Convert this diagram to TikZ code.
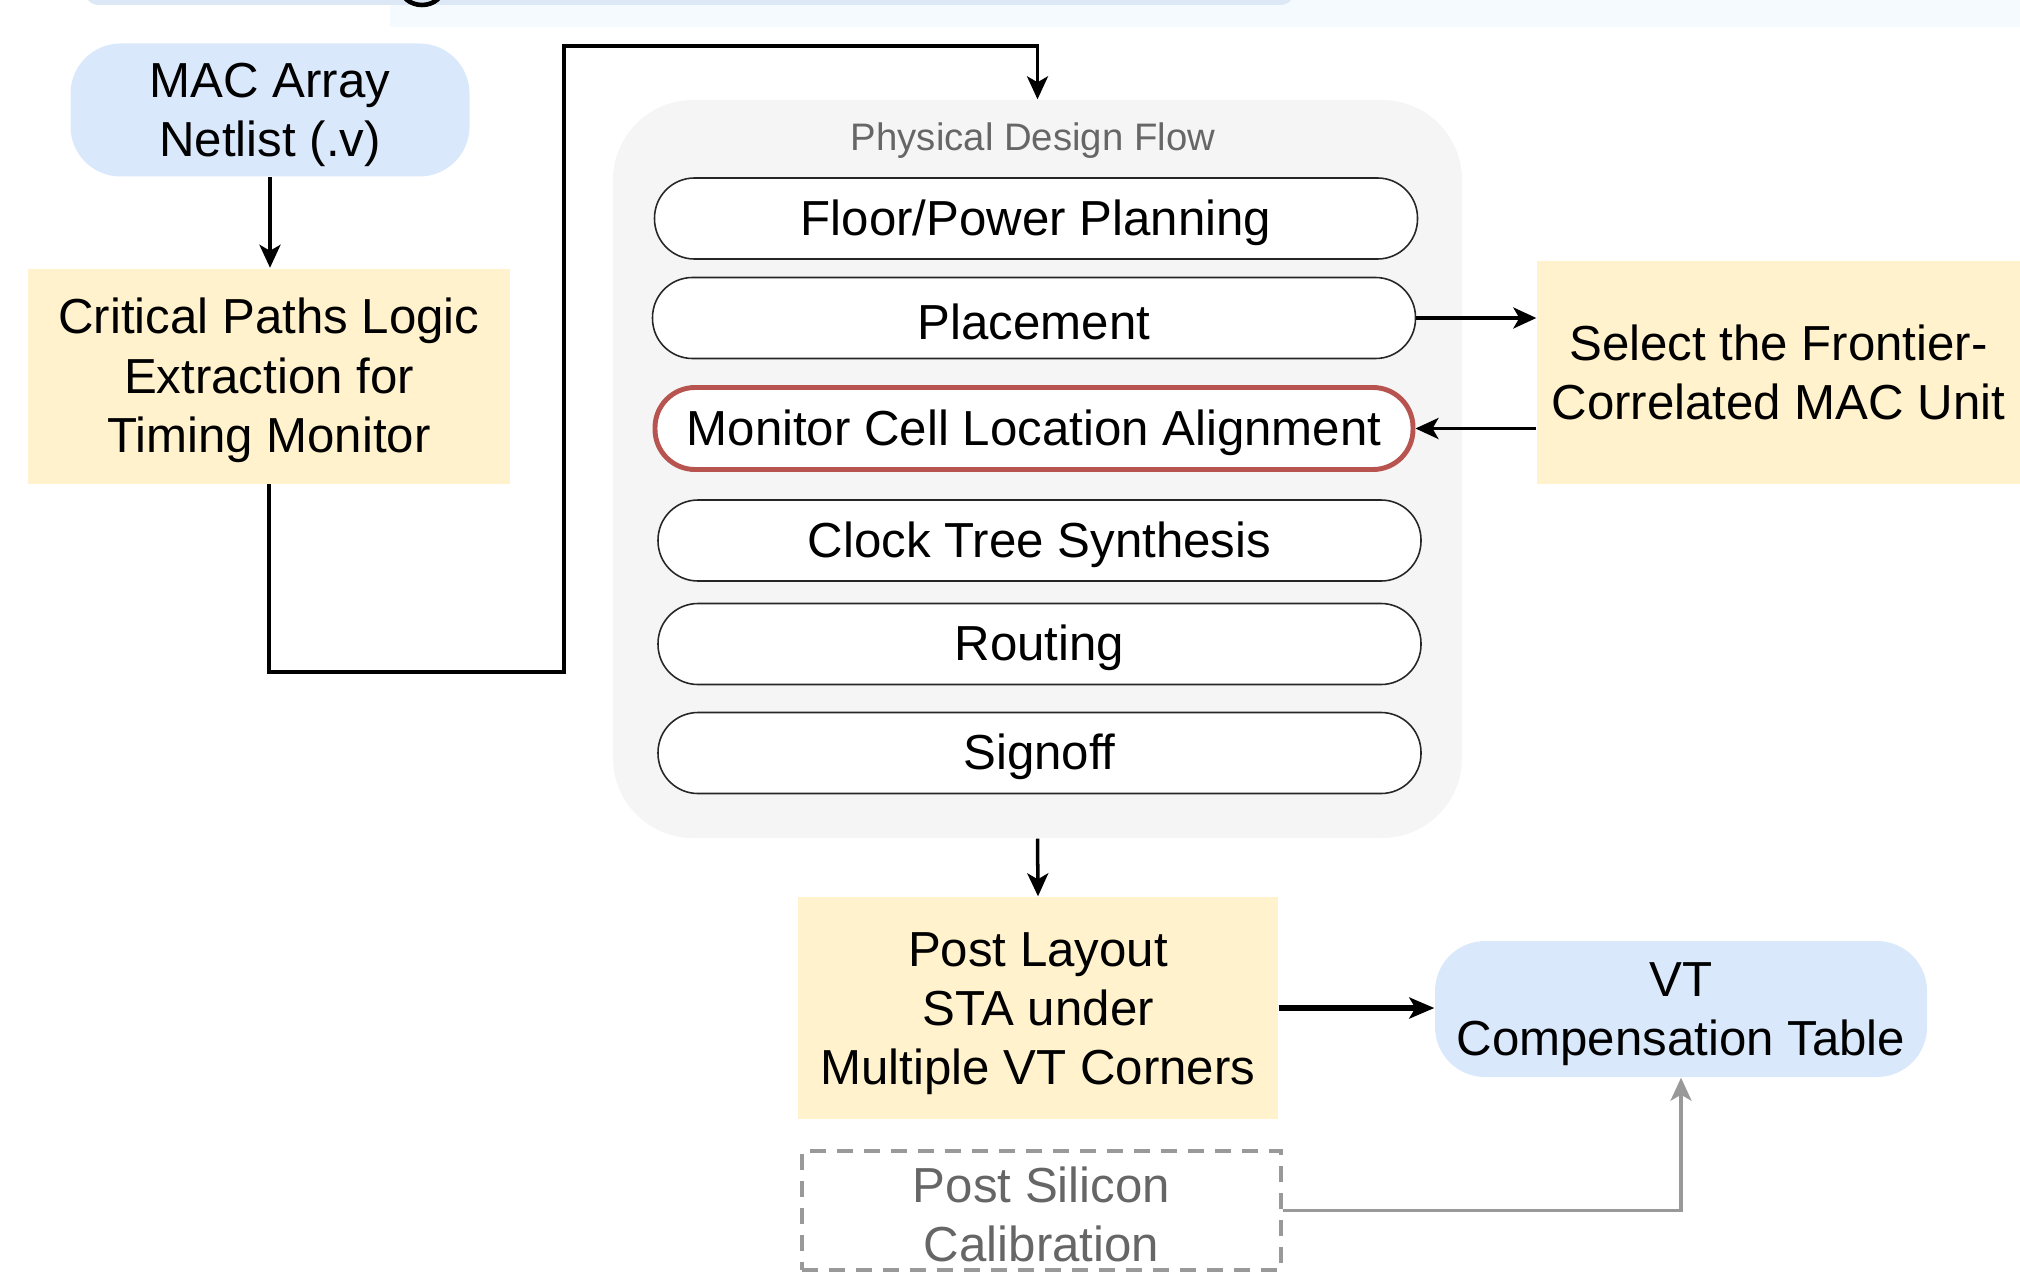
\documentclass[tikz,border=0pt]{standalone}
\usepackage{fontspec}
\setmainfont{Liberation Sans}
\usepackage{tikz}
\usetikzlibrary{arrows.meta}
\definecolor{termblue}{HTML}{DAE8FC}
\definecolor{taskyellow}{HTML}{FFF2CC}
\definecolor{flowgray}{HTML}{F5F5F5}
\definecolor{alignred}{HTML}{B85450}
\definecolor{calgray}{HTML}{999999}
\definecolor{textgray}{HTML}{666666}
\definecolor{stripblue}{HTML}{DDE8F6}
\definecolor{bandblue}{HTML}{F4FAFE}
\newcommand{\topstrut}{\rule{0pt}{12.6pt}}
\tikzset{
	flow diagram/.style={
		x=0.1mm, y=-0.1mm,
		font=\fontsize{14}{16.8}\selectfont,
		ar/.style={draw, line width=1pt, -{Stealth[length=2.3mm, width=2.1mm, inset=0.6mm]}},
		ar thick/.style={ar, line width=1.5pt, -{Stealth[length=2.5mm, width=2.1mm, inset=0.6mm]}},
		ar gray/.style={ar, draw=calgray, line width=1pt}
		},
	low text/.style={execute at begin node={\rule{0pt}{12.4pt}}},
	term/.style={fill=termblue, rounded corners=5mm, inner sep=0pt, align=center},
	task/.style={fill=taskyellow, inner sep=0pt, align=center},
	stage/.style={draw=black!85, fill=white, line width=0.45pt, rounded corners=4mm,
		minimum width=76.3mm, minimum height=8.1mm, inner sep=0pt, low text},
	stage hl/.style={stage, draw=alignred, line width=1.4pt,
		minimum width=75.8mm, minimum height=8.2mm},
	group/.style={fill=flowgray, rounded corners=8mm, inner sep=0pt},
	group name/.style={font=\fontsize{10.9}{13}\selectfont, text=textgray},
	pending/.style={draw=calgray, line width=0.9pt, dash pattern=on 1.6mm off 1.1mm,
		text=textgray, inner sep=0pt, align=center}
}

\begin{document}
\begin{tikzpicture}[flow diagram]
   \useasboundingbox (0,0) rectangle (2020,1272);
   \begin{scope}
      \clip (0,0) rectangle (2020,1272);
      \fill[bandblue] (390,0) rectangle (2020,27);
      \fill[stripblue, rounded corners=1.5mm] (84,-60) rectangle (1295,5);
      \draw[line width=1.3pt] (422,-14) ellipse [x radius=22, y radius=19];
   \end{scope}
   \node[term, minimum width=39.9mm, minimum height=13.3mm] (mac) at (270,110) {\topstrut MAC Array\\Netlist (.v)};
   \node[task, minimum width=48.2mm, minimum height=21.5mm] (crit) at (269,376)
      {\topstrut Critical Paths Logic\\Extraction for\\Timing Monitor};
   \node[group, minimum width=84.9mm, minimum height=73.8mm] (pdf) at (1037.5,469) {};
   \node[group name] (pdfname) at (1033,141) {Physical Design Flow};
   \node[stage] (fpp) at (1036,218.5) {Floor/Power Planning};
   \node[stage] (place) at (1034,318) {Placement};
   \node[stage hl] (mca) at (1034,428.5) {Monitor Cell Location Alignment};
   \node[stage] (cts) at (1039.5,540.5) {Clock Tree Synthesis};
   \node[stage] (route) at (1039.5,644) {Routing};
   \node[stage] (signoff) at (1039.5,753) {Signoff};
   \node[task, minimum width=48.3mm, minimum height=22.3mm] (sel) at (1778.5,372)
      {Select the Frontier-\\Correlated MAC Unit};
   \node[task, minimum width=48mm, minimum height=22.2mm] (sta) at (1038,1008)
      {\topstrut Post Layout\\STA under\\Multiple VT Corners};
   \node[term, minimum width=49.2mm, minimum height=13.6mm] (vt) at (1681,1009) {\topstrut VT\\Compensation Table};
   \node[pending, minimum width=47.9mm, minimum height=11.9mm] (cal) at (1041.5,1210.5)
      {\topstrut Post Silicon\\Calibration};
   \coordinate (jog) at (564,672);
   \coordinate (top) at (564,46);
   \draw[ar] (mac.south) -- (mac.south |- crit.north);
   \draw[ar] (crit.south) |- (jog) -- (top) -| (pdf.north);
   \draw[ar] (place.east) -- (place.east -| sel.west);
   \draw[ar] (sel.west |- mca.east) -- (mca.east);
   \draw[ar] (pdf.south) -- (sta.north);
   \draw[ar thick] (sta.east) -- (sta.east -| vt.west);
   \draw[ar gray] (cal.east) -| (vt.south);
\end{tikzpicture}
\end{document}
